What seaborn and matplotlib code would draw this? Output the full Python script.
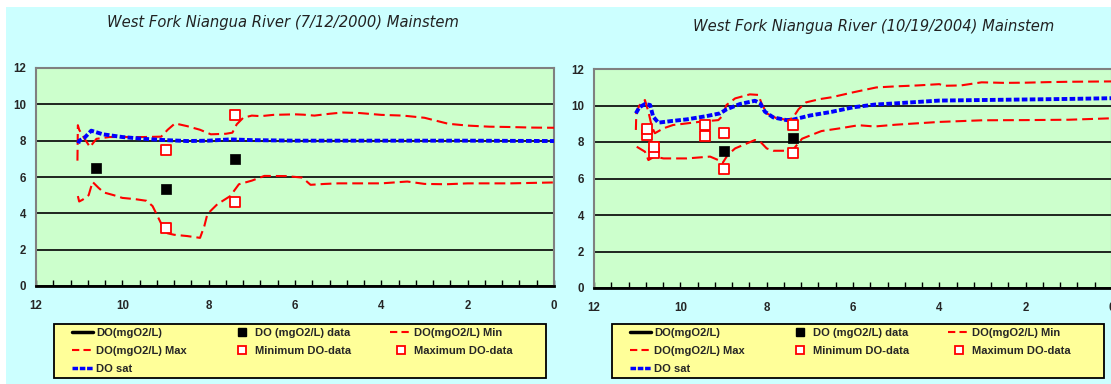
import numpy as np
import pandas as pd
import matplotlib
matplotlib.use("Agg")
import matplotlib.pyplot as plt
from matplotlib.lines import Line2D
from matplotlib.patches import Rectangle
import seaborn as sns

# ---------------- data ----------------
titles = ["West Fork Niangua River (7/12/2000) Mainstem",
          "West Fork Niangua River (10/19/2004) Mainstem"]

# Panel 1 (7/12/2000)
do_data_x_2000 = [10.6, 9.0, 7.4]
do_data_y_2000 = [6.5, 5.35, 7.0]
min_data_x_2000 = [9.0, 7.4]
min_data_y_2000 = [3.2, 4.6]
max_data_x_2000 = [9.0, 7.4]
max_data_y_2000 = [7.5, 9.4]

dosat_x_2000 = [11.02, 11.0, 10.88, 10.72, 10.45, 10.0, 9.5, 9.0, 8.5, 8.0, 7.5, 7.0, 6.0, 4.0, 2.0, 0.0]
dosat_y_2000 = [7.85, 8.0, 8.15, 8.55, 8.35, 8.2, 8.1, 8.03, 7.98, 8.0, 8.07, 8.03, 8.0, 8.0, 8.0, 7.98]

max_x_2000 = [11.04, 11.03, 11.0, 10.9, 10.75, 10.6, 10.3, 10.0, 9.5, 9.1, 8.95, 8.78, 8.5, 8.2, 7.95,
              7.6, 7.45, 7.35, 7.2, 7.0, 6.79, 6.5, 6.0, 5.8, 5.55, 5.2, 4.9, 4.5, 4.0, 3.5, 3.0,
              2.45, 2.0, 1.5, 1.0, 0.5, 0.0]
max_y_2000 = [6.9, 8.85, 8.6, 8.2, 7.65, 8.1, 8.2, 8.2, 8.2, 8.22, 8.6, 8.95, 8.8, 8.6, 8.35,
              8.38, 8.44, 8.9, 9.26, 9.38, 9.35, 9.42, 9.45, 9.43, 9.38, 9.48, 9.55, 9.52, 9.42, 9.38, 9.26,
              8.93, 8.83, 8.77, 8.75, 8.72, 8.71]

min_x_2000 = [11.03, 11.0, 10.92, 10.78, 10.69, 10.55, 10.43, 10.2, 10.0, 9.7, 9.44, 9.3, 9.19, 9.05,
              8.95, 8.8, 8.5, 8.2, 8.1, 8.03, 7.8, 7.5, 7.3, 7.0, 6.71, 6.2, 5.84, 5.75, 5.64, 5.3,
              5.0, 4.0, 3.4, 3.0, 2.5, 2.0, 1.0, 0.0]
min_y_2000 = [4.95, 4.65, 4.75, 5.0, 5.73, 5.4, 5.15, 5.0, 4.85, 4.78, 4.69, 4.4, 3.87, 3.2,
              2.9, 2.82, 2.75, 2.65, 3.3, 3.96, 4.5, 4.95, 5.6, 5.8, 6.06, 6.05, 5.97, 5.8, 5.57, 5.62,
              5.65, 5.65, 5.75, 5.62, 5.6, 5.65, 5.65, 5.7]

# Panel 2 (10/19/2004)
do_data_x_2004 = [9.0, 7.4]
do_data_y_2004 = [7.5, 8.2]
min_data_x_2004 = [10.78, 10.61, 9.44, 9.0, 7.4]
min_data_y_2004 = [8.37, 7.41, 8.33, 6.53, 7.41]
max_data_x_2004 = [10.78, 10.61, 9.44, 9.0, 7.4]
max_data_y_2004 = [8.73, 7.72, 8.92, 8.51, 8.92]

dosat_x_2004 = [11.03, 10.95, 10.82, 10.7, 10.63, 10.51, 10.2, 9.85, 9.39, 9.08, 8.93, 8.62, 8.27,
                8.15, 8.04, 7.85, 7.54, 7.4, 7.0, 6.5, 6.0, 5.5, 5.0, 4.0, 3.0, 2.0, 1.0, 0.0]
dosat_y_2004 = [9.57, 9.9, 10.08, 10.03, 9.39, 9.06, 9.15, 9.24, 9.42, 9.57, 9.79, 10.08, 10.26,
                10.12, 9.66, 9.35, 9.2, 9.22, 9.45, 9.65, 9.9, 10.05, 10.12, 10.27, 10.3, 10.33, 10.36, 10.4]

max_x_2004 = [11.03, 11.02, 10.95, 10.82, 10.74, 10.66, 10.59, 10.39, 10.17, 9.85, 9.54, 9.12, 9.04,
              8.93, 8.73, 8.39, 8.19, 8.12, 8.0, 7.77, 7.54, 7.4, 7.26, 7.09, 6.77, 6.5, 6.0, 5.46,
              5.0, 4.5, 4.0, 3.9, 3.5, 3.02, 2.5, 2.0, 1.5, 1.0, 0.5, 0.0]
max_y_2004 = [8.66, 9.59, 10.0, 10.3, 9.66, 8.84, 8.48, 8.75, 8.93, 9.02, 9.11, 9.2, 9.39,
              10.03, 10.39, 10.61, 10.58, 10.12, 9.57, 9.3, 9.22, 9.3, 9.8, 10.17, 10.35, 10.45, 10.72, 10.99,
              11.05, 11.1, 11.17, 11.08, 11.1, 11.27, 11.24, 11.25, 11.28, 11.3, 11.31, 11.32]

min_x_2004 = [11.01, 10.82, 10.74, 10.6, 10.39, 9.85, 9.31, 9.12, 9.02, 8.9, 8.73, 8.27, 8.15, 8.0,
              7.85, 7.54, 7.4, 7.18, 7.0, 6.73, 6.3, 5.87, 5.5, 5.0, 4.0, 3.0, 2.0, 1.0, 0.0]
min_y_2004 = [7.74, 7.47, 7.01, 7.2, 7.1, 7.1, 7.2, 7.01, 6.85, 7.3, 7.65, 8.11, 8.02, 7.65,
              7.52, 7.52, 7.55, 8.18, 8.35, 8.6, 8.75, 8.92, 8.85, 8.95, 9.1, 9.19, 9.2, 9.22, 9.3]

legend_labels = ["DO(mgO2/L)", "DO (mgO2/L) data", "DO(mgO2/L) Min",
                 "DO(mgO2/L) Max", "Minimum DO-data", "Maximum DO-data", "DO sat"]

x_major = [0, 2, 4, 6, 8, 10, 12]
y_major = [0, 2, 4, 6, 8, 10, 12]

# ---------------- style ----------------
BG = "#CCFFFF"
PLOT_BG = "#CCFFCC"
LEG_BG = "#FFFF99"
RED = "#FF0000"
BLUE = "#0000FF"
RED_LS = (0, (5.2, 2.4))
BLUE_LS = (0, (1.45, 0.6))

sns.set_style("white")
plt.rcParams["font.family"] = ["Liberation Sans", "DejaVu Sans"]

W, H = 1111, 384
fig = plt.figure(figsize=(W / 100, H / 100), dpi=100, facecolor=BG)

# white strips at top and left edge
fig.patches.append(Rectangle((0, 1 - 7 / H), 1, 7 / H, transform=fig.transFigure,
                             facecolor="white", edgecolor="none", zorder=0))
fig.patches.append(Rectangle((0, 0), 6 / W, 1, transform=fig.transFigure,
                             facecolor="white", edgecolor="none", zorder=0))

panels = [
    dict(rect=(36, 68, 554, 286), title_xy=(283, 22),
         dox=do_data_x_2000, doy=do_data_y_2000,
         minx=min_data_x_2000, miny=min_data_y_2000,
         maxx=max_data_x_2000, maxy=max_data_y_2000,
         sx=dosat_x_2000, sy=dosat_y_2000,
         mxx=max_x_2000, mxy=max_y_2000, mnx=min_x_2000, mny=min_y_2000,
         leg=(54, 324, 546, 378)),
    dict(rect=(594, 69, 1112, 288), title_xy=(874, 27),
         dox=do_data_x_2004, doy=do_data_y_2004,
         minx=min_data_x_2004, miny=min_data_y_2004,
         maxx=max_data_x_2004, maxy=max_data_y_2004,
         sx=dosat_x_2004, sy=dosat_y_2004,
         mxx=max_x_2004, mxy=max_y_2004, mnx=min_x_2004, mny=min_y_2004,
         leg=(612, 324, 1104, 378)),
]

for i, p in enumerate(panels):
    x0, y0, x1, y1 = p["rect"]
    ax = fig.add_axes([x0 / W, 1 - y1 / H, (x1 - x0) / W, (y1 - y0) / H])
    ax.set_facecolor(PLOT_BG)

    df_max = pd.DataFrame({"x": p["mxx"], "y": p["mxy"]})
    df_min = pd.DataFrame({"x": p["mnx"], "y": p["mny"]})
    df_sat = pd.DataFrame({"x": p["sx"], "y": p["sy"]})
    sns.lineplot(data=df_max, x="x", y="y", sort=False, estimator=None, ax=ax,
                 color=RED, lw=1.5, linestyle=RED_LS, legend=False, zorder=3)
    sns.lineplot(data=df_min, x="x", y="y", sort=False, estimator=None, ax=ax,
                 color=RED, lw=1.5, linestyle=RED_LS, legend=False, zorder=3)
    sns.lineplot(data=df_sat, x="x", y="y", sort=False, estimator=None, ax=ax,
                 color=BLUE, lw=2.8, linestyle=BLUE_LS, legend=False, zorder=4)

    sns.scatterplot(x=p["minx"], y=p["miny"], ax=ax, marker="s", s=55, color="white",
                    edgecolor=RED, linewidth=1.3, zorder=5, legend=False)
    sns.scatterplot(x=p["maxx"], y=p["maxy"], ax=ax, marker="s", s=55, color="white",
                    edgecolor=RED, linewidth=1.3, zorder=5, legend=False)
    sns.scatterplot(x=p["dox"], y=p["doy"], ax=ax, marker="s", s=62, color="black",
                    edgecolor="black", linewidth=0.5, zorder=6, legend=False)

    ax.set_xlim(12, 0)
    ax.set_ylim(0, 12)
    ax.set_xticks(x_major)
    ax.set_xticks(np.arange(0, 12.01, 0.4), minor=True)
    ax.set_yticks(y_major)
    ax.set_xlabel("")
    ax.set_ylabel("")
    ax.tick_params(axis="x", which="both", direction="in", length=4, width=1, color="black",
                   labelsize=8.3, pad=10, bottom=True)
    ax.tick_params(axis="y", length=0, labelsize=8.3, pad=7)
    for lab in ax.get_xticklabels() + ax.get_yticklabels():
        lab.set_fontweight("bold")
    ax.yaxis.grid(True, color="black", lw=1.2)
    ax.xaxis.grid(False)
    ax.set_axisbelow(True)
    for s in ["left", "top", "right"]:
        ax.spines[s].set_color("#808080")
        ax.spines[s].set_linewidth(1.5)
        ax.spines[s].set_visible(True)
    ax.spines["bottom"].set_color("black")
    ax.spines["bottom"].set_linewidth(2)
    ax.spines["bottom"].set_visible(True)

    tx, ty = p["title_xy"]
    fig.text(tx / W, 1 - ty / H, titles[i], ha="center", va="center",
             fontsize=10.6, style="italic", family=["DejaVu Sans"], color="#222222")

    # legend box
    lx0, ly0, lx1, ly1 = p["leg"]
    fig.patches.append(Rectangle((lx0 / W, 1 - ly1 / H), (lx1 - lx0) / W, (ly1 - ly0) / H,
                                 transform=fig.transFigure, facecolor=LEG_BG,
                                 edgecolor="black", lw=1.3, zorder=1))

    h_do = Line2D([], [], color="black", lw=2.5)
    h_dod = Line2D([], [], color="black", marker="s", markersize=6, linestyle="none")
    h_min = Line2D([], [], color=RED, lw=1.5, linestyle=(0, (3.5, 2.0)))
    h_max = Line2D([], [], color=RED, lw=1.5, linestyle=(0, (3.5, 2.0)))
    h_mind = Line2D([], [], color=RED, marker="s", markersize=6, markerfacecolor="white",
                    markeredgewidth=1.3, linestyle="none")
    h_maxd = Line2D([], [], color=RED, marker="s", markersize=6, markerfacecolor="white",
                    markeredgewidth=1.3, linestyle="none")
    h_sat = Line2D([], [], color=BLUE, lw=2.5, linestyle=(0, (1.6, 0.5)))

    cols = [
        ([h_do, h_max, h_sat], [legend_labels[0], legend_labels[3], legend_labels[6]], lx0 + 18),
        ([h_dod, h_mind], [legend_labels[1], legend_labels[4]], lx0 + 177),
        ([h_min, h_maxd], [legend_labels[2], legend_labels[5]], lx0 + 336),
    ]
    for hs, ls, cx in cols:
        leg = fig.legend(hs, ls, loc="upper left", bbox_to_anchor=(cx / W, 1 - 328 / H),
                         frameon=False, borderpad=0, borderaxespad=0, handlelength=1.9,
                         handletextpad=0.3, labelspacing=0.72,
                         prop={"weight": "bold", "size": 8})
        leg.set_zorder(2)

fig.savefig("out.png", dpi=100, facecolor=BG)
